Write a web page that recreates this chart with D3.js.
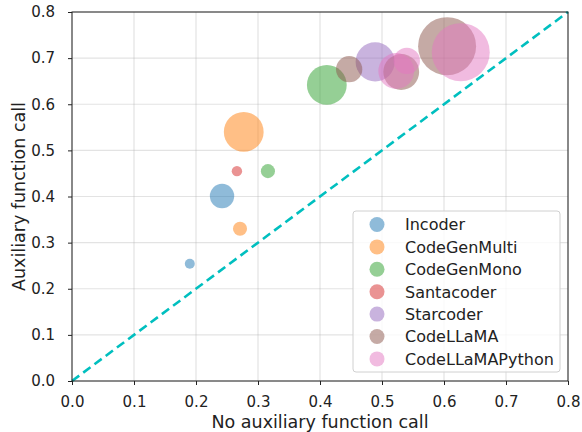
<!DOCTYPE html>
<html><head><meta charset="utf-8">
<script src="https://cdn.jsdelivr.net/npm/d3@7"></script>
<style>body{margin:0;background:#fff}text{font-family:"DejaVu Sans",sans-serif;fill:#222}</style>
</head><body><svg id="c" width="582" height="432"></svg>
<script>
const models = ["Incoder","CodeGenMulti","CodeGenMono","Santacoder","Starcoder","CodeLLaMA","CodeLLaMAPython"];
const colors = ["#1f77b4","#ff7f0e","#2ca02c","#d62728","#9467bd","#8c564b","#e377c2"];
// each point: [no auxiliary, auxiliary, model size (B)]
const incoder = [[0.190,0.254,1],[0.242,0.401,6]];
const codegenMulti = [[0.271,0.330,2],[0.277,0.540,16]];
const codegenMono = [[0.316,0.455,2],[0.411,0.642,16]];
const santacoder = [[0.266,0.455,1.1]];
const starcoder = [[0.489,0.692,15.5]];
const codellama = [[0.447,0.676,7],[0.531,0.670,13],[0.605,0.726,34]];
const codellamaPython = [[0.540,0.694,7],[0.523,0.672,13],[0.627,0.713,34]];
const seriesData = [incoder,codegenMulti,codegenMono,santacoder,starcoder,codellama,codellamaPython];
const ticks = [0,0.1,0.2,0.3,0.4,0.5,0.6,0.7,0.8];

const svg = d3.select("#c");
const L=72,R=568,T=12,B=381;
const x = d3.scaleLinear().domain([0,0.8]).range([L,R]);
const y = d3.scaleLinear().domain([0,0.8]).range([B,T]);
const r = d3.scaleSqrt().domain([0,34]).range([0,29]);

// grid
svg.append("g").selectAll("line").data(ticks).join("line")
  .attr("x1",d=>x(d)).attr("x2",d=>x(d)).attr("y1",T).attr("y2",B)
  .attr("stroke","#b0b0b0").attr("stroke-opacity",0.35).attr("stroke-width",1.2);
svg.append("g").selectAll("line").data(ticks).join("line")
  .attr("y1",d=>y(d)).attr("y2",d=>y(d)).attr("x1",L).attr("x2",R)
  .attr("stroke","#b0b0b0").attr("stroke-opacity",0.35).attr("stroke-width",1.2);

// points
seriesData.forEach((pts,i)=>{
  svg.append("g").selectAll("circle").data(pts).join("circle")
    .attr("cx",d=>x(d[0])).attr("cy",d=>y(d[1])).attr("r",d=>r(d[2]))
    .attr("fill",colors[i]).attr("fill-opacity",0.5);
});

// diagonal
svg.append("line").attr("x1",x(0)).attr("y1",y(0)).attr("x2",x(0.8)).attr("y2",y(0.8))
  .attr("stroke","#00bfbf").attr("stroke-width",2.6).attr("stroke-dasharray","9,5");

// axes
const xa = svg.append("g").attr("transform",`translate(0,${B})`)
  .call(d3.axisBottom(x).tickValues(ticks).tickFormat(d3.format(".1f")).tickSize(4).tickPadding(11));
const ya = svg.append("g").attr("transform",`translate(${L},0)`)
  .call(d3.axisLeft(y).tickValues(ticks).tickFormat(d3.format(".1f")).tickSize(4).tickPadding(13));
[xa,ya].forEach(a=>{a.selectAll("text").attr("font-size",15).attr("font-family","DejaVu Sans").attr("fill","#222");
  a.select(".domain").remove(); a.selectAll(".tick line").attr("stroke","#222");});
svg.append("rect").attr("x",L).attr("y",T).attr("width",R-L).attr("height",B-T)
  .attr("fill","none").attr("stroke","#222").attr("stroke-width",1);

svg.append("text").attr("x",(L+R)/2).attr("y",428).attr("text-anchor","middle").attr("font-size",17.5)
  .text("No auxiliary function call");
svg.append("text").attr("transform",`translate(25,${(T+B)/2}) rotate(-90)`).attr("text-anchor","middle").attr("font-size",17.5)
  .text("Auxiliary function call");

// legend
const lg = svg.append("g");
lg.append("rect").attr("x",353).attr("y",211).attr("width",207).attr("height",161).attr("rx",3)
  .attr("fill","#fff").attr("fill-opacity",0.8).attr("stroke","#d0d0d0");
models.forEach((m,i)=>{
  const yy = 224.5 + i*22.4;
  lg.append("circle").attr("cx",377).attr("cy",yy).attr("r",7.5).attr("fill",colors[i]).attr("fill-opacity",0.5);
  lg.append("text").attr("x",405).attr("y",yy+5.8).attr("font-size",16).text(m);
});
</script></body></html>
